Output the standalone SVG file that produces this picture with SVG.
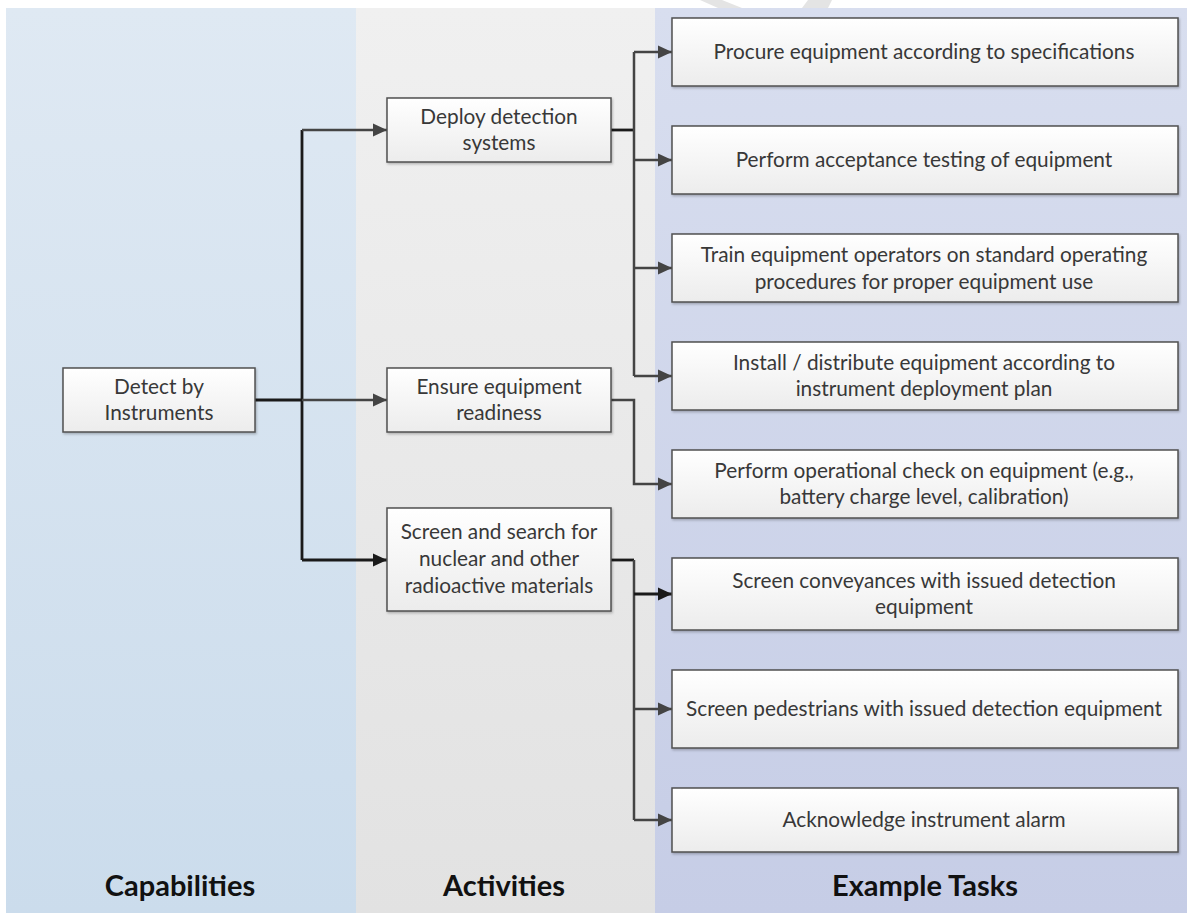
<svg xmlns="http://www.w3.org/2000/svg" width="1192" height="913" viewBox="0 0 1192 913">
<style>
.box{stroke:#505050;stroke-width:1.5;fill:url(#boxg);filter:url(#sh)}
.t{font-family:Lato,"Open Sans","Liberation Sans",sans-serif;font-size:20.8px;fill:#383838;text-anchor:middle}
.h{font-family:Lato,"Open Sans","Liberation Sans",sans-serif;font-size:29px;font-weight:bold;fill:#111;text-anchor:middle}
.c{fill:none;stroke:#444;stroke-width:2.5}
.cb{fill:none;stroke:#1a1a1a;stroke-width:2.8}
</style>
<defs>
<linearGradient id="boxg" x1="0" y1="0" x2="0" y2="1"><stop offset="0" stop-color="#ffffff"/><stop offset="1" stop-color="#ececec"/></linearGradient>
<linearGradient id="l1" x1="0" y1="0" x2="0" y2="1"><stop offset="0" stop-color="#dfe9f3"/><stop offset="1" stop-color="#cbdcec"/></linearGradient>
<linearGradient id="l2" x1="0" y1="0" x2="0" y2="1"><stop offset="0" stop-color="#f0f0f0"/><stop offset="1" stop-color="#e2e2e2"/></linearGradient>
<linearGradient id="l3" x1="0" y1="0" x2="0" y2="1"><stop offset="0" stop-color="#d8deef"/><stop offset="1" stop-color="#c6cde6"/></linearGradient>
<filter id="sh" x="-5%" y="-10%" width="110%" height="130%"><feDropShadow dx="1" dy="1.5" stdDeviation="1" flood-color="#000" flood-opacity="0.25"/></filter>
<marker id="ar" markerUnits="userSpaceOnUse" markerWidth="15" markerHeight="15" refX="14" refY="7.5" orient="auto"><path d="M0,1 L14,7.5 L0,14 Z" fill="#444"/></marker>
<marker id="arb" markerUnits="userSpaceOnUse" markerWidth="15" markerHeight="15" refX="14" refY="7.5" orient="auto"><path d="M0,1 L14,7.5 L0,14 Z" fill="#1a1a1a"/></marker>
</defs>
<rect width="1192" height="913" fill="#ffffff"/>
<g id="watermark" fill="#e4e4e4">
<path d="M700,0 L722,0 L742,8 L718,8 Z"/>
<path d="M808,0 L832,0 L828,8 L802,8 Z"/>
</g>
<g id="lanes">
<rect x="6" y="8" width="350" height="905" fill="url(#l1)"/>
<rect x="356" y="8" width="299" height="905" fill="url(#l2)"/>
<rect x="655" y="8" width="532" height="905" fill="url(#l3)"/>
<text class="h" x="180" y="896">Capabilities</text>
<text class="h" x="504" y="896">Activities</text>
<text class="h" x="925" y="896">Example Tasks</text>
</g>
<g id="connectors">
<path class="cb" d="M255,400 H302"/>
<path class="cb" d="M302,130 V560"/>
<path class="c" d="M302,130 H387" marker-end="url(#ar)"/>
<path class="c" d="M302,400 H387" marker-end="url(#ar)"/>
<path class="cb" d="M302,560 H387" marker-end="url(#arb)"/>
<path class="cb" d="M611,130 H634"/>
<path class="c" d="M634,52 V376"/>
<path class="c" d="M634,52 H672" marker-end="url(#ar)"/>
<path class="c" d="M634,160 H672" marker-end="url(#ar)"/>
<path class="c" d="M634,268 H672" marker-end="url(#ar)"/>
<path class="c" d="M634,376 H672" marker-end="url(#ar)"/>
<path class="c" d="M611,400 H634 V484 H672" marker-end="url(#ar)"/>
<path class="cb" d="M611,560 H634"/>
<path class="c" d="M634,560 V820"/>
<path class="cb" d="M634,594 H672" marker-end="url(#arb)"/>
<path class="c" d="M634,709 H672" marker-end="url(#ar)"/>
<path class="c" d="M634,820 H672" marker-end="url(#ar)"/>
</g>
<g id="n-detect"><rect class="box" x="63" y="368" width="192" height="64"/><text class="t" x="159" y="394">Detect by</text><text class="t" x="159" y="420">Instruments</text></g>
<g id="n-deploy"><rect class="box" x="387" y="98" width="224" height="64"/><text class="t" x="499" y="124">Deploy detection</text><text class="t" x="499" y="150">systems</text></g>
<g id="n-ensure"><rect class="box" x="387" y="368" width="224" height="64"/><text class="t" x="499" y="394">Ensure equipment</text><text class="t" x="499" y="420">readiness</text></g>
<g id="n-screen"><rect class="box" x="387" y="508" width="224" height="103"/><text class="t" x="499" y="539">Screen and search for</text><text class="t" x="499" y="566">nuclear and other</text><text class="t" x="499" y="593">radioactive materials</text></g>
<g id="t-procure"><rect class="box" x="672" y="18" width="506" height="68"/><text class="t" x="924" y="59">Procure equipment according to specifications</text></g>
<g id="t-acceptance"><rect class="box" x="672" y="126" width="506" height="68"/><text class="t" x="924" y="167">Perform acceptance testing of equipment</text></g>
<g id="t-train"><rect class="box" x="672" y="234" width="506" height="68"/><text class="t" x="924" y="262">Train equipment operators on standard operating</text><text class="t" x="924" y="289">procedures for proper equipment use</text></g>
<g id="t-install"><rect class="box" x="672" y="342" width="506" height="68"/><text class="t" x="924" y="370">Install / distribute equipment according to</text><text class="t" x="924" y="396">instrument deployment plan</text></g>
<g id="t-opcheck"><rect class="box" x="672" y="450" width="506" height="68"/><text class="t" x="924" y="478">Perform operational check on equipment (e.g.,</text><text class="t" x="924" y="504">battery charge level, calibration)</text></g>
<g id="t-conveyances"><rect class="box" x="672" y="558" width="506" height="72"/><text class="t" x="924" y="588">Screen conveyances with issued detection</text><text class="t" x="924" y="614">equipment</text></g>
<g id="t-pedestrians"><rect class="box" x="672" y="670" width="506" height="78"/><text class="t" x="924" y="716">Screen pedestrians with issued detection equipment</text></g>
<g id="t-alarm"><rect class="box" x="672" y="788" width="506" height="64"/><text class="t" x="924" y="827">Acknowledge instrument alarm</text></g>
</svg>
